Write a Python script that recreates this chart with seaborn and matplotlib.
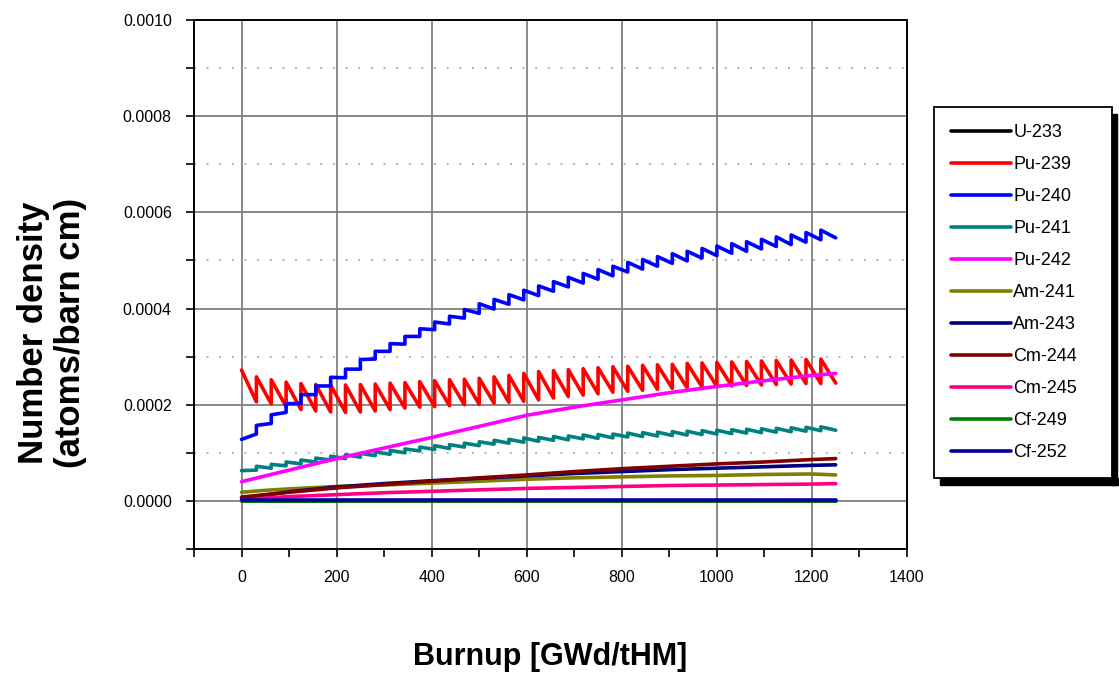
import numpy as np
import pandas as pd
import matplotlib
matplotlib.use("Agg")
import matplotlib.pyplot as plt
import seaborn as sns
from matplotlib.ticker import MultipleLocator, FixedLocator, FormatStrFormatter
from matplotlib.lines import Line2D
from matplotlib.patches import Rectangle
from matplotlib.transforms import IdentityTransform

# values, in units of 1e-4 atoms/barn cm
SCALE = 1e-4

# refuelling cycle boundaries [GWd/tHM]
cycle_burnup = [0, 31.25, 62.5, 93.75, 125, 156.25, 187.5, 218.75, 250, 281.25,
                312.5, 343.75, 375, 406.25, 437.5, 468.75, 500, 531.25, 562.5, 593.75,
                625, 656.25, 687.5, 718.75, 750, 781.25, 812.5, 843.75, 875, 906.25,
                937.5, 968.75, 1000, 1031.25, 1062.5, 1093.75, 1125, 1156.25, 1187.5, 1218.75,
                1250]

# value right after each reload (start) and at end of each cycle (end)
pu239_start = [2.72, 2.58, 2.52, 2.47, 2.44, 2.42, 2.41, 2.41, 2.42, 2.43,
               2.45, 2.46, 2.48, 2.50, 2.52, 2.53, 2.55, 2.58, 2.61, 2.65,
               2.69, 2.71, 2.73, 2.75, 2.77, 2.79, 2.80, 2.82, 2.83, 2.84,
               2.86, 2.87, 2.88, 2.89, 2.90, 2.91, 2.92, 2.93, 2.94, 2.95]
pu239_end = [2.06, 2.02, 1.96, 1.90, 1.87, 1.85, 1.84, 1.85, 1.87, 1.90,
             1.93, 1.95, 1.96, 1.98, 2.00, 2.01, 2.03, 2.05, 2.07, 2.10,
             2.14, 2.17, 2.20, 2.23, 2.26, 2.28, 2.30, 2.32, 2.34, 2.35,
             2.37, 2.38, 2.39, 2.40, 2.41, 2.42, 2.43, 2.44, 2.44, 2.45]

pu240_start = [1.28, 1.57, 1.79, 2.02, 2.21, 2.39, 2.57, 2.74, 2.94, 3.11,
               3.27, 3.42, 3.58, 3.72, 3.84, 3.98, 4.10, 4.19, 4.29, 4.38,
               4.47, 4.56, 4.65, 4.73, 4.81, 4.88, 4.96, 5.02, 5.08, 5.14,
               5.19, 5.25, 5.30, 5.35, 5.39, 5.44, 5.49, 5.53, 5.58, 5.63]
pu240_end = [1.39, 1.61, 1.84, 2.03, 2.21, 2.39, 2.56, 2.74, 2.95, 3.11,
             3.26, 3.42, 3.56, 3.68, 3.80, 3.90, 3.99, 4.09, 4.18, 4.27,
             4.36, 4.45, 4.53, 4.61, 4.68, 4.76, 4.82, 4.88, 4.94, 4.99,
             5.05, 5.10, 5.15, 5.19, 5.24, 5.29, 5.33, 5.38, 5.43, 5.47]

pu241_start = [0.63, 0.72, 0.76, 0.81, 0.85, 0.89, 0.93, 0.96, 0.99, 1.02,
               1.05, 1.08, 1.12, 1.15, 1.17, 1.20, 1.23, 1.26, 1.28, 1.31,
               1.32, 1.34, 1.35, 1.37, 1.38, 1.39, 1.41, 1.42, 1.43, 1.44,
               1.45, 1.46, 1.47, 1.48, 1.49, 1.50, 1.51, 1.52, 1.53, 1.54]
pu241_end = [0.64, 0.68, 0.73, 0.77, 0.81, 0.85, 0.88, 0.91, 0.94, 0.97,
             1.00, 1.04, 1.07, 1.09, 1.12, 1.15, 1.18, 1.20, 1.22, 1.24,
             1.26, 1.27, 1.29, 1.30, 1.31, 1.33, 1.34, 1.35, 1.36, 1.37,
             1.38, 1.39, 1.40, 1.41, 1.42, 1.43, 1.44, 1.45, 1.46, 1.47]

# smoother nuclides, read at a few burnup points
knot_burnup = [0, 50, 100, 200, 300, 400, 500, 600, 700, 800, 900, 1000, 1100, 1200, 1250]
u233 = [0.00, 0.00, 0.00, 0.00, 0.00, 0.00, 0.00, 0.00, 0.00, 0.00, 0.00, 0.00, 0.00, 0.00, 0.00]
pu242 = [0.40, 0.52, 0.64, 0.88, 1.10, 1.32, 1.55, 1.78, 1.95, 2.10, 2.25, 2.38, 2.50, 2.61, 2.65]
am241 = [0.18, 0.22, 0.25, 0.30, 0.33, 0.37, 0.41, 0.45, 0.48, 0.50, 0.52, 0.53, 0.55, 0.56, 0.54]
am243 = [0.05, 0.12, 0.19, 0.29, 0.36, 0.42, 0.47, 0.52, 0.57, 0.61, 0.65, 0.68, 0.71, 0.74, 0.75]
cm244 = [0.08, 0.13, 0.18, 0.27, 0.34, 0.41, 0.48, 0.54, 0.61, 0.67, 0.72, 0.77, 0.81, 0.86, 0.88]
cm245 = [0.00, 0.06, 0.09, 0.13, 0.17, 0.20, 0.23, 0.26, 0.28, 0.30, 0.32, 0.33, 0.34, 0.35, 0.36]
cf249 = [0.00, 0.00, 0.00, 0.00, 0.00, 0.00, 0.00, 0.00, 0.00, 0.00, 0.00, 0.00, 0.00, 0.00, 0.00]
cf252 = [0.01, 0.01, 0.01, 0.01, 0.01, 0.01, 0.01, 0.01, 0.01, 0.01, 0.01, 0.01, 0.01, 0.01, 0.01]

nuclides = ["U-233", "Pu-239", "Pu-240", "Pu-241", "Pu-242", "Am-241",
            "Am-243", "Cm-244", "Cm-245", "Cf-249", "Cf-252"]
colors = ["#000000", "#ff0000", "#0000ff", "#008080", "#ff00ff", "#808000",
          "#000080", "#800000", "#ff0080", "#008000", "#0000a0"]

rows = []
sawtooth = {"Pu-239": (pu239_start, pu239_end),
            "Pu-240": (pu240_start, pu240_end),
            "Pu-241": (pu241_start, pu241_end)}
for name, (start, end) in sawtooth.items():
    for i in range(len(start)):
        rows.append((cycle_burnup[i], start[i] * SCALE, name))
        rows.append((cycle_burnup[i + 1], end[i] * SCALE, name))

smooth = {"U-233": u233, "Pu-242": pu242, "Am-241": am241, "Am-243": am243,
          "Cm-244": cm244, "Cm-245": cm245, "Cf-249": cf249, "Cf-252": cf252}
for name, vals in smooth.items():
    for b, v in zip(knot_burnup, vals):
        rows.append((b, v * SCALE, name))

df = pd.DataFrame(rows, columns=["burnup", "density", "nuclide"])

sns.set_style("ticks")
plt.rcParams["font.family"] = ["Liberation Sans", "DejaVu Sans"]
plt.rcParams["text.color"] = "black"
plt.rcParams["axes.labelcolor"] = "black"
plt.rcParams["xtick.color"] = "black"
plt.rcParams["ytick.color"] = "black"

fig = plt.figure(figsize=(11.19, 6.73), dpi=100)
ax = fig.add_axes([194 / 1119, 1 - 549 / 673, 713 / 1119, 529 / 673])

sns.lineplot(data=df, x="burnup", y="density", hue="nuclide", hue_order=nuclides,
             palette=colors, sort=False, estimator=None, linewidth=2.6,
             legend=False, ax=ax)

ax.set_xlim(-100, 1400)
ax.set_ylim(-0.0001, 0.0010)
ax.xaxis.set_major_locator(MultipleLocator(200))
ax.xaxis.set_minor_locator(FixedLocator([-100, 100, 300, 500, 700, 900, 1100, 1300]))
ax.yaxis.set_major_locator(MultipleLocator(0.0002))
ax.yaxis.set_minor_locator(FixedLocator([-0.0001, 0.0001, 0.0003, 0.0005, 0.0007, 0.0009]))
ax.yaxis.set_major_formatter(FormatStrFormatter("%.4f"))

ax.set_axisbelow(True)
ax.grid(which="major", color="#808080", linewidth=1.3, linestyle="-")
ax.yaxis.grid(True, which="minor", color="#a8a8a8", linewidth=1.3, linestyle=(0, (1, 6)))
ax.xaxis.grid(False, which="minor")

for side in ["left", "bottom", "right", "top"]:
    ax.spines[side].set_visible(True)
    ax.spines[side].set_color("black")
    ax.spines[side].set_linewidth(1.4)

ax.tick_params(axis="both", which="both", direction="out", length=6, width=1.2,
               color="black", labelsize=11.5)
ax.tick_params(axis="x", which="both", top=False, pad=9)
ax.tick_params(axis="y", which="both", right=False, pad=10)

ax.set_xlabel("Burnup [GWd/tHM]", fontsize=22, fontweight="bold")
ax.xaxis.set_label_coords(0.5, -0.204)
ax.xaxis.label.set_va("center")
ax.set_ylabel("Number density\n(atoms/barn cm)", fontsize=25, fontweight="bold",
              linespacing=1.15)
ax.yaxis.set_label_coords(-0.199, 0.408)
ax.yaxis.label.set_va("center")
ax.yaxis.label.set_ha("center")

handles = [Line2D([0], [0], color=c, lw=2.6) for c in colors]
leg = ax.legend(handles, nuclides, loc="upper left",
                bbox_to_anchor=(934 / 1119, 0.30, 178 / 1119, 1 - 107 / 673 - 0.30),
                bbox_transform=fig.transFigure, mode="expand", borderaxespad=0,
                fontsize=13, handlelength=3.3, handletextpad=0.15, labelspacing=0.83,
                borderpad=0.95, fancybox=False, frameon=True, framealpha=1,
                edgecolor="black")
leg.get_frame().set_linewidth(1.3)

fig.canvas.draw()
bb = leg.get_frame().get_window_extent()
fig.add_artist(Rectangle((bb.x0 + 6, bb.y0 - 7), bb.width, 7,
                         transform=IdentityTransform(), color="black", zorder=0))
fig.add_artist(Rectangle((bb.x1, bb.y0 - 7), 5, bb.height,
                         transform=IdentityTransform(), color="black", zorder=0))

fig.savefig("out.png", dpi=100, facecolor="white")
